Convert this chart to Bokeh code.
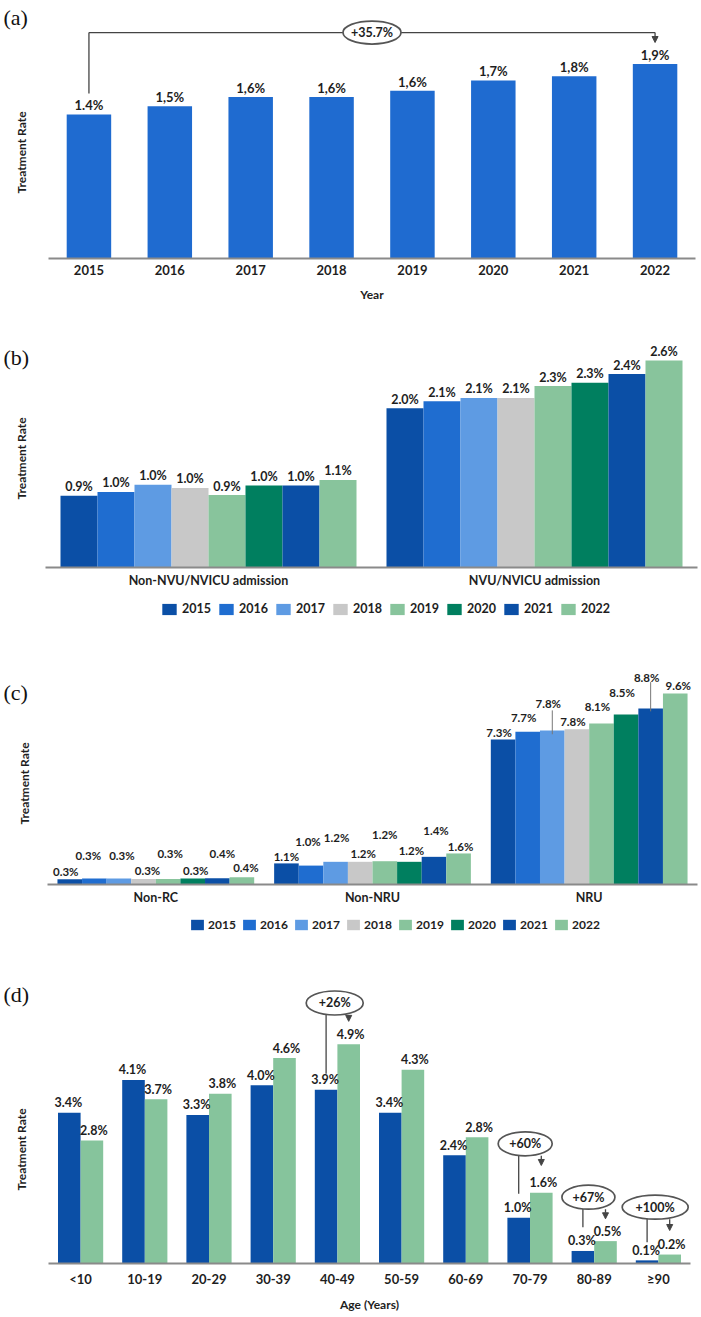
import math
from bokeh.plotting import figure
from bokeh.layouts import column
from bokeh.models import (Range1d, ColumnDataSource, Label, Legend, LegendItem, Arrow,
                          NormalHead, LinearAxis, FixedTicker)
from bokeh.core.properties import value
from bokeh.embed import file_html
from bokeh.resources import INLINE

# ---------------- data ----------------
years = ["2015", "2016", "2017", "2018", "2019", "2020", "2021", "2022"]

# (a) overall treatment rate by year
rate_a = [1.40, 1.48, 1.57, 1.57, 1.63, 1.73, 1.77, 1.89]
labels_a = ["1.4%", "1,5%", "1,6%", "1,6%", "1,6%", "1,7%", "1,8%", "1,9%"]
change_a = "+35.7%"

# (b) by admission type
groups_b = ["Non-NVU/NVICU admission", "NVU/NVICU admission"]
b_non_nvu = [0.90, 0.95, 1.04, 1.00, 0.91, 1.03, 1.03, 1.10]
b_nvu = [2.00, 2.09, 2.13, 2.13, 2.28, 2.32, 2.43, 2.60]
labels_b_non_nvu = ["0.9%", "1.0%", "1.0%", "1.0%", "0.9%", "1.0%", "1.0%", "1.1%"]
labels_b_nvu = ["2.0%", "2.1%", "2.1%", "2.1%", "2.3%", "2.3%", "2.4%", "2.6%"]

# (c) by unit type
groups_c = ["Non-RC", "Non-NRU", "NRU"]
c_non_rc = [0.27, 0.30, 0.30, 0.28, 0.28, 0.30, 0.32, 0.37]
c_non_nru = [1.06, 0.95, 1.14, 1.14, 1.17, 1.14, 1.39, 1.56]
c_nru = [7.29, 7.67, 7.74, 7.80, 8.09, 8.54, 8.84, 9.60]
labels_c_non_rc = ["0.3%", "0.3%", "0.3%", "0.3%", "0.3%", "0.3%", "0.4%", "0.4%"]
labels_c_non_nru = ["1.1%", "1.0%", "1.2%", "1.2%", "1.2%", "1.2%", "1.4%", "1.6%"]
labels_c_nru = ["7.3%", "7.7%", "7.8%", "7.8%", "8.1%", "8.5%", "8.8%", "9.6%"]

# (d) by age group, 2015 vs 2022
ages = ["<10", "10-19", "20-29", "30-39", "40-49", "50-59", "60-69", "70-79", "80-89", "\u226590"]
d_2015 = [3.37, 4.10, 3.32, 3.98, 3.88, 3.37, 2.42, 1.02, 0.28, 0.07]
d_2022 = [2.75, 3.67, 3.79, 4.59, 4.90, 4.33, 2.82, 1.58, 0.50, 0.20]
labels_d_2015 = ["3.4%", "4.1%", "3.3%", "4.0%", "3.9%", "3.4%", "2.4%", "1.0%", "0.3%", "0.1%"]
labels_d_2022 = ["2.8%", "3.7%", "3.8%", "4.6%", "4.9%", "4.3%", "2.8%", "1.6%", "0.5%", "0.2%"]
change_d_groups = ["40-49", "70-79", "80-89", "\u226590"]
change_d = ["+26%", "+60%", "+67%", "+100%"]

# ---------------- style ----------------
FONT = "Lato"
TXT = "#1e1e1e"
LINE = "#444444"
year_colors = ["#0b4fa6", "#1f6dd0", "#5e9be3", "#c8c8c8", "#88c49c", "#007f5f", "#0b4fa6", "#88c49c"]
BAR_A = "#1f6bd0"
BLUE_D = "#0b4fa6"
GREEN_D = "#86c49c"
W = 701


def make_panel(names, height, baseline, cw, left, scale, tick_standoff, xlabel=None,
               xlabel_standoff=8):
    """Figure whose frame is the whole canvas; x in category units, y=0 at the baseline."""
    n = len(names)
    right = W - left - n * cw
    p = figure(width=W, height=height,
               x_range=Range1d(-left / cw, n + right / cw),
               y_range=Range1d(-(height - baseline) / scale, baseline / scale),
               x_axis_type=None, y_axis_type=None, output_backend="svg",
               toolbar_location=None, min_border=0)
    p.outline_line_color = None
    p.title.visible = False
    ax = LinearAxis(fixed_location=0, bounds=(0, n),
                    ticker=FixedTicker(ticks=[i + 0.5 for i in range(n)], minor_ticks=[]),
                    major_label_overrides={i + 0.5: nm for i, nm in enumerate(names)})
    ax.axis_line_color = "#8a8a8a"
    ax.axis_line_width = 2
    ax.major_tick_line_color = None
    ax.minor_tick_line_color = None
    ax.major_tick_out = 0
    ax.major_tick_in = 0
    ax.major_label_text_font = FONT
    ax.major_label_text_font_style = "bold"
    ax.major_label_text_font_size = "13px" if xlabel else "12.5px"
    ax.major_label_text_color = TXT
    ax.major_label_standoff = tick_standoff
    if xlabel:
        ax.axis_label = xlabel
        ax.axis_label_text_font = FONT
        ax.axis_label_text_font_style = "bold"
        ax.axis_label_text_font_size = "12px"
        ax.axis_label_text_color = TXT
        ax.axis_label_standoff = xlabel_standoff
    p.add_layout(ax, "below")
    return p


def panel_labels(p, letter, baseline, cw, left, scale, letter_y, title_y, title_x=21):
    # letter_y / title_y / title_x are canvas pixels from the figure's top-left
    p.add_layout(Label(x=(3 - left) / cw, y=(baseline - letter_y) / scale, text=letter,
                       text_font="Liberation Serif", text_font_size="22px",
                       text_baseline="middle", text_align="left", text_color="#111111"))
    p.add_layout(Label(x=(title_x - left) / cw, y=(baseline - title_y) / scale,
                       text="Treatment Rate", angle=math.pi / 2, text_font=FONT,
                       text_font_style="bold", text_font_size="12px", text_align="center",
                       text_baseline="middle", text_color=TXT))


def year_legend(p, renderers, x, y, glyph_w, glyph_h, label_w, label_size, spacing, standoff):
    items = [LegendItem(label=yr, renderers=[r]) for yr, r in zip(years, renderers)]
    lg = Legend(items=items, orientation="horizontal", location=(x, y),
                glyph_width=glyph_w, glyph_height=glyph_h, label_height=glyph_h,
                label_width=label_w, label_standoff=standoff, spacing=spacing, padding=0,
                margin=0, border_line_color=None, background_fill_alpha=0,
                label_text_font=FONT, label_text_font_style="bold",
                label_text_font_size=label_size, label_text_color=TXT)
    p.add_layout(lg)


# ================= (a) =================
H_A, BASE_A, CW_A, L_A, SCALE_A = 325, 258, 80.875, 48, 102.9
pa = make_panel(years, H_A, BASE_A, CW_A, L_A, SCALE_A, 6, "Year", 9)
xa = [i + 0.5 for i in range(len(years))]
src_a = ColumnDataSource(dict(x=xa, v=rate_a, lab=labels_a))
pa.vbar(x="x", top="v", width=0.55, source=src_a, fill_color=BAR_A, line_color=None)
pa.text(x="x", y="v", text="lab", source=src_a, y_offset=-9, text_align="center",
        text_baseline="middle", text_font=value(FONT), text_font_style="bold",
        text_font_size="13px", text_color=TXT)
br_y = 2.196
x_first, x_last = xa[0], xa[-1]
pa.segment(x0=[x_first, x_first], y0=[1.603, br_y], x1=[x_first, x_last], y1=[br_y, br_y],
           line_color=LINE, line_width=1.3)
x_mid = (x_first + x_last) / 2
pa.ellipse(x=[x_mid], y=[br_y], width=[58], height=[23], width_units="screen",
           height_units="screen", fill_color="white", line_color="#555555", line_width=1.7)
pa.text(x=[x_mid], y=[br_y], text=[change_a], text_align="center", text_baseline="middle",
        text_font=value(FONT), text_font_style="bold", text_font_size="12.5px", text_color=TXT)
pa.add_layout(Arrow(x_start=x_last, y_start=br_y, x_end=x_last, y_end=2.099, line_color=LINE,
                    line_width=1.3, end=NormalHead(size=6, fill_color=LINE, line_color=LINE)))
panel_labels(pa, "(a)", BASE_A, CW_A, L_A, SCALE_A, 17, 152)

# ================= (b) =================
H_B, BASE_B, CW_B, L_B, SCALE_B = 315, 242, 326, 45, 79.6
pb = make_panel(groups_b, H_B, BASE_B, CW_B, L_B, SCALE_B, 5)
wb = 0.1135
rend_b = []
for k, yr in enumerate(years):
    xs = [g + 0.5 + (k - 3.5) * wb for g in range(len(groups_b))]
    s = ColumnDataSource(dict(x=xs, v=[b_non_nvu[k], b_nvu[k]],
                              lab=[labels_b_non_nvu[k], labels_b_nvu[k]]))
    r = pb.vbar(x="x", top="v", width=wb, source=s, fill_color=year_colors[k], line_color=None)
    pb.text(x="x", y="v", text="lab", source=s, y_offset=-9, text_align="center",
            text_baseline="middle", text_font=value(FONT), text_font_style="bold",
            text_font_size="12.5px", text_color=TXT)
    rend_b.append(r)
year_legend(pb, rend_b, 160, 24, 18, 14, 30, "12.5px", 5, 4)
panel_labels(pb, "(b)", BASE_B, CW_B, L_B, SCALE_B, 32, 133)

# ================= (c) =================
H_C, BASE_C, CW_C, L_C, SCALE_C = 315, 244, 216.67, 47, 19.9
pc = make_panel(groups_c, H_C, BASE_C, CW_C, L_C, SCALE_C, 5)
wc = 0.1135
# label lift above bar top (px) and horizontal nudge (px), per group and year
lift_c = [[8, 23, 23, 8, 25, 8, 25, 10],
          [7, 24, 24, 8, 27, 11, 26, 7],
          [7, 14, 27, 8, 17, 22, 31, 8]]
nudge_c = [[-4, -6, 3, 4, 2, 3, 5, 4],
           [0, -3, 1, 3, 0, 2, 2, 2],
           [-4, -4, -4, -4, -4, -4, -4, 3]]
series_c = [c_non_rc, c_non_nru, c_nru]
labels_c = [labels_c_non_rc, labels_c_non_nru, labels_c_nru]
rend_c = []
for k, yr in enumerate(years):
    xs = [g + 0.5 + (k - 3.5) * wc for g in range(len(groups_c))]
    s = ColumnDataSource(dict(x=xs, v=[sr[k] for sr in series_c],
                              lab=[lb[k] for lb in labels_c],
                              dy=[-lift_c[j][k] for j in range(3)],
                              dx=[nudge_c[j][k] for j in range(3)]))
    r = pc.vbar(x="x", top="v", width=wc, source=s, fill_color=year_colors[k], line_color=None)
    rend_c.append(r)
    pc.text(x="x", y="v", text="lab", source=s, y_offset="dy", x_offset="dx",
            text_align="center", text_baseline="middle", text_font=value(FONT),
            text_font_style="bold", text_font_size="11.5px", text_color=TXT)
# leader lines for the raised labels of 2017 and 2021 in NRU
nru = groups_c.index("NRU")
lx = [nru + 0.5 + (2 - 3.5) * wc, nru + 0.5 + (6 - 3.5) * wc]
pc.segment(x0=lx, y0=[8.75, 10.17], x1=lx, y1=[7.55, 8.70], line_color="#777777",
           line_width=1)
year_legend(pc, rend_c, 189, 23, 16, 13, 28, "12px", 5, 3)
panel_labels(pc, "(c)", BASE_C, CW_C, L_C, SCALE_C, 52, 143, 24)

# ================= (d) =================
H_D, BASE_D, CW_D, L_D, SCALE_D = 362, 308, 64.2, 48, 44.76
pd_ = make_panel(ages, H_D, BASE_D, CW_D, L_D, SCALE_D, 7, "Age (Years)", 7)
wd = 0.352
xd = [i + 0.5 for i in range(len(ages))]
src_d = ColumnDataSource(dict(x1=[x - wd / 2 for x in xd], x2=[x + wd / 2 for x in xd],
                              v1=d_2015, v2=d_2022, l1=labels_d_2015, l2=labels_d_2022))
pd_.vbar(x="x1", top="v1", width=wd, source=src_d, fill_color=BLUE_D, line_color=None)
pd_.vbar(x="x2", top="v2", width=wd, source=src_d, fill_color=GREEN_D, line_color=None)
for xc, col, lab, nx in (("x1", "v1", "l1", -1), ("x2", "v2", "l2", 2)):
    pd_.text(x=xc, y=col, text=lab, source=src_d, y_offset=-10, x_offset=nx,
             text_align="center", text_baseline="middle", text_font=value(FONT),
             text_font_style="bold", text_font_size="12.5px", text_color=TXT)
# change call-outs: (oval x nudge from category centre, oval y, oval w px, oval h px,
#                    bottom of left line, arrow tip)
callouts = [(-0.042, 5.82, 57, 24, 4.24, 5.41),
            (-0.075, 2.674, 54, 24, 1.557, 2.19),
            (-0.09, 1.481, 53, 24, 0.811, 0.999),
            (-0.05, 1.258, 66, 24, 0.476, 0.737)]
ox, oy, ow, oh, sx0, sy0, sy1 = [], [], [], [], [], [], []
for g, (dxo, yo, w_, h_, lb, tip) in zip(change_d_groups, callouts):
    cx = ages.index(g) + 0.5
    ox.append(cx + dxo)
    oy.append(yo)
    ow.append(w_)
    oh.append(h_)
    sx0.append(cx - wd / 2)
    sy0.append(yo)
    sy1.append(lb)
    bottom = yo - (h_ / 2) / SCALE_D
    pd_.add_layout(Arrow(x_start=cx + wd / 2, y_start=bottom, x_end=cx + wd / 2, y_end=tip,
                         line_color=LINE, line_width=1.3,
                         end=NormalHead(size=6, fill_color=LINE, line_color=LINE)))
pd_.segment(x0=sx0, y0=sy0, x1=sx0, y1=sy1, line_color=LINE, line_width=1.3)
pd_.ellipse(x=ox, y=oy, width=ow, height=oh, width_units="screen", height_units="screen",
            fill_color="white", line_color="#555555", line_width=1.7)
pd_.text(x=ox, y=oy, text=change_d, text_align="center", text_baseline="middle",
         text_font=value(FONT), text_font_style="bold", text_font_size="12.5px",
         text_color=TXT)
panel_labels(pd_, "(d)", BASE_D, CW_D, L_D, SCALE_D, 39, 194)

layout = column(pa, pb, pc, pd_, spacing=0)
open("out.html", "w").write(file_html(layout, INLINE))
